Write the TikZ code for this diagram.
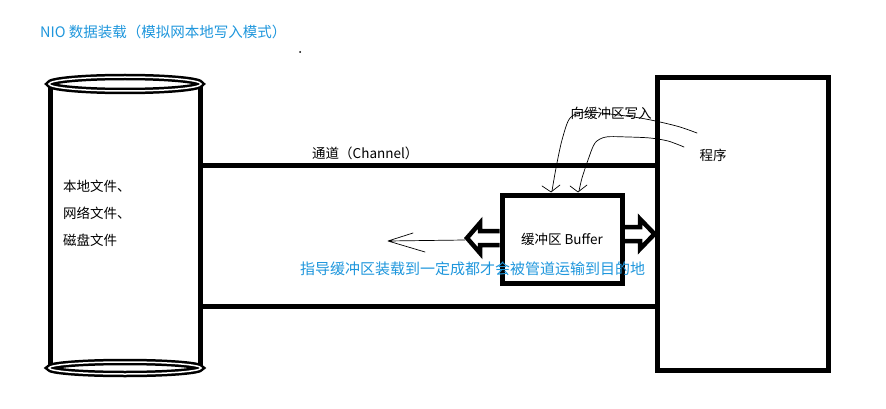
\documentclass[tikz,border=0pt]{standalone}
\usepackage{fontspec}
\setmainfont{Noto Sans CJK SC}
\usetikzlibrary{positioning}
\definecolor{noteblue}{RGB}{30,150,220}

\begin{document}
\begin{tikzpicture}[x=1pt,y=-1pt,
  wall/.style={line width=5pt},
  lbl/.style={font=\fontsize{13.5}{16}\selectfont,inner sep=0pt},
  note/.style={font=\fontsize{15}{18}\selectfont,text=noteblue,inner sep=0pt},
  pen/.style={line width=0.7pt,line cap=round,line join=round},
  fat/.style={line width=4.5pt,line join=miter}]
\useasboundingbox (0,0) rectangle (886,409);

% titre
\node[note,anchor=west,font=\fontsize{14.5}{17}\selectfont] (title) at (40,32) {NIO 数据装载（模拟网本地写入模式）};
\fill (300,52) circle (1);

% fichier local (cylindre)
\coordinate (cylL) at (50,84);
\coordinate (cylR) at (200,84);
\draw[wall] (cylL) -- (50,371) (cylR) -- (200,371);
\draw[line width=2.5pt,double,double distance=1.5pt] (125,84) ellipse (76 and 7);
\draw[line width=2.5pt,double,double distance=1.5pt] (125,368) ellipse (76 and 6);
\node[lbl,anchor=west,align=left,font=\fontsize{13.5}{27}\selectfont] (store) at (63,213) {本地文件、\\网络文件、\\磁盘文件};

% programme et buffer
\node[draw,wall,inner sep=0pt,minimum width=171pt,minimum height=292pt] (prog) at (742.5,224) {};
\node[lbl] (progtxt) at (713,155) {程序};
\node[draw,wall,lbl,minimum width=120pt,minimum height=88pt] (buf) at (562,239) {缓冲区 Buffer};

% canal
\draw[wall] (cylR |- 0,165) -- (prog.west |- 0,165);
\draw[wall] (cylR |- 0,306) -- (prog.west |- 0,306);
\node[lbl,anchor=west] (chan) at (312,153) {通道（Channel）};

% fleches epaisses
\draw[fat] (buf.west |- 0,231) -- (480,231) -- (480,223) -- (467,238) -- (480,253) -- (480,245) -- (buf.west |- 0,245);
\draw[fat] (buf.east |- 0,227) -- (640,227) -- (640,219) -- (prog.west |- 0,234) -- (640,249) -- (640,241) -- (buf.east |- 0,241);
\coordinate (outtip) at (388,241);
\draw[pen] (465,240) -- (outtip) -- (413,233) (outtip) -- (425,252);
\node[note,anchor=west] (hint) at (300,269) {指导缓冲区装载到一定成都才会被管道运输到目的地};

% ecriture vers le buffer
\node[lbl] (write) at (611,113) {向缓冲区写入};
\draw[pen] plot[smooth] coordinates {(697,133) (680,127) (660,122) (640,118) (610,114) (585,112) (570,118) (562,140) (556,168) (552,191)};
\draw[pen] (542,186) -- (551,192) -- (560,185);
\draw[pen] plot[smooth] coordinates {(684,147) (668,141) (650,138) (628,137) (606,137) (595,143) (588,160) (582,178) (579,191)};
\draw[pen] (570,186) -- (578,192) -- (587,185);
\end{tikzpicture}
\end{document}
